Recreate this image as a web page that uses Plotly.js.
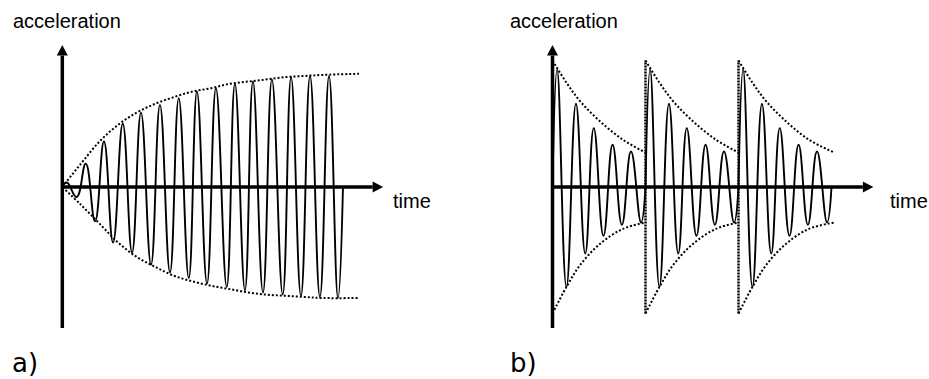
<!DOCTYPE html>
<html>
<head>
<meta charset="utf-8">
<script src="https://cdn.plot.ly/plotly-3.0.1.min.js"></script>
<style>
  html, body { margin: 0; padding: 0; background: #fff; }
  #chart { width: 929px; height: 379px; }
</style>
</head>
<body>
<div id="chart"></div>
<script>
// a) growing oscillation: turning points (time in wave periods, acceleration in arbitrary units)
const aPeakTime = [0.24, 1.26, 2.24, 3.25, 4.23, 5.25, 6.26, 7.24, 8.26, 9.28, 10.25, 11.27, 12.30, 13.32, 14.34];
const aPeakValue = [0.04, 0.21, 0.41, 0.57, 0.67, 0.74, 0.80, 0.86, 0.89, 0.93, 0.95, 0.97, 0.99, 1.00, 1.00];
const aTroughTime = [0.77, 1.76, 2.73, 3.75, 4.77, 5.79, 6.80, 7.78, 8.84, 9.82, 10.79, 11.85, 12.83, 13.85, 14.82];
const aTroughValue = [-0.09, -0.31, -0.50, -0.59, -0.70, -0.77, -0.82, -0.87, -0.90, -0.93, -0.95, -0.97, -0.98, -0.99, -1.00];
const aWaveStart = 0;
const aWaveEnd = 15.09;

// a) envelope
const aEnvTime = [0, 1, 2, 3, 4, 5, 6, 7, 8, 9, 10, 11, 12, 13, 14, 15.95];
const aEnvUpper = [0, 0.21, 0.41, 0.56, 0.67, 0.75, 0.81, 0.86, 0.89, 0.93, 0.95, 0.97, 0.99, 1.00, 1.01, 1.02];
const aEnvLower = [0, -0.16, -0.33, -0.50, -0.63, -0.72, -0.80, -0.85, -0.89, -0.92, -0.95, -0.97, -0.98, -0.99, -1.00, -1.00];

// b) decaying bursts, same shape repeated
const burstStart = [0, 5, 10];
const burstLength = 5.0;
const bPeakTime = [0.25, 1.26, 2.22, 3.23, 4.22];
const bPeakValue = [1.06, 0.75, 0.53, 0.38, 0.32];
const bTroughTime = [0.75, 1.76, 2.74, 3.73, 4.76];
const bTroughValue = [-0.90, -0.60, -0.44, -0.34, -0.32];

// b) envelope per burst
const bEnvTime = [0, 0.75, 1.5, 2.5, 3.75, 5.0];
const bEnvUpper = [1.14, 0.94, 0.77, 0.60, 0.43, 0.31];
const bEnvLower = [-1.14, -0.90, -0.70, -0.52, -0.38, -0.32];
const bLastEnvEnd = 5.16;

// axis extents
const axisTimeEnd = 17.25;
const axisAccTop = 1.28;
const axisAccBottom = -1.27;

const W = 929, H = 379;
const pxPerTime = 18.6, pxPerAcc = 111, axisRowPx = 187;
const headLen = 10.5, headHalf = 5.5;

const paperX = px => px / W;
const paperY = px => 1 - px / H;

function turningPoints(start, peakT, peakV, troughT, troughV, t0, t1) {
  const x = [start + t0], y = [0];
  peakT.forEach((t, i) => {
    x.push(start + t, start + troughT[i]);
    y.push(peakV[i], troughV[i]);
  });
  x.push(start + t1);
  y.push(0);
  return { x, y };
}

const waveLine = { color: '#000', width: 1.9, shape: 'spline', smoothing: 1.3 };
const dotLine = { color: '#000', width: 2, dash: '2px,2px', shape: 'spline', smoothing: 1 };
const base = { type: 'scatter', mode: 'lines', hoverinfo: 'skip', showlegend: false };

const traces = [];

// panel a
const aWave = turningPoints(0, aPeakTime, aPeakValue, aTroughTime, aTroughValue, aWaveStart, aWaveEnd);
traces.push({ ...base, x: aWave.x, y: aWave.y, line: waveLine, xaxis: 'x', yaxis: 'y' });
traces.push({ ...base, x: aEnvTime, y: aEnvUpper, line: dotLine, xaxis: 'x', yaxis: 'y' });
traces.push({ ...base, x: aEnvTime, y: aEnvLower, line: dotLine, xaxis: 'x', yaxis: 'y' });

// panel b
burstStart.forEach((s, k) => {
  const w = turningPoints(s, bPeakTime, bPeakValue, bTroughTime, bTroughValue, 0, burstLength);
  traces.push({ ...base, x: w.x, y: w.y, line: waveLine, xaxis: 'x2', yaxis: 'y2' });
  const envT = bEnvTime.map((t, i) =>
    s + (k === burstStart.length - 1 && i === bEnvTime.length - 1 ? bLastEnvEnd : t));
  traces.push({ ...base, x: envT, y: bEnvUpper, line: dotLine, xaxis: 'x2', yaxis: 'y2' });
  traces.push({ ...base, x: envT, y: bEnvLower, line: dotLine, xaxis: 'x2', yaxis: 'y2' });
  if (k > 0) {
    traces.push({
      ...base, x: [s, s], y: [bEnvLower[0], bEnvUpper[0]],
      line: { color: '#000', width: 2.5, dash: '2px,1px' }, xaxis: 'x2', yaxis: 'y2'
    });
  }
});

function axisShapes(xr, yr) {
  const ln = { color: '#000', width: 3.5 };
  return [
    { type: 'line', xref: xr, yref: yr, x0: 0, y0: 0, x1: axisTimeEnd - headLen / pxPerTime, y1: 0, line: ln },
    { type: 'line', xref: xr, yref: yr, x0: 0, y0: axisAccBottom, x1: 0, y1: axisAccTop - headLen / pxPerAcc, line: ln },
    { type: 'path', xref: xr, yref: yr, xsizemode: 'pixel', ysizemode: 'pixel',
      xanchor: axisTimeEnd, yanchor: 0,
      path: `M0,0 L${-headLen},${headHalf} L${-headLen},${-headHalf} Z`,
      fillcolor: '#000', line: { width: 0 } },
    { type: 'path', xref: xr, yref: yr, xsizemode: 'pixel', ysizemode: 'pixel',
      xanchor: 0, yanchor: axisAccTop,
      path: `M0,0 L${-headHalf},${-headLen} L${headHalf},${-headLen} Z`,
      fillcolor: '#000', line: { width: 0 } }
  ];
}

const sans = 'Liberation Sans, Arial, sans-serif';
const verd = 'DejaVu Sans, Verdana, sans-serif';
function label(text, xpx, ypx, font, size) {
  return {
    text, xref: 'paper', yref: 'paper', x: paperX(xpx), y: paperY(ypx),
    xanchor: 'left', yanchor: 'middle', showarrow: false,
    font: { family: font, size, color: '#000' }
  };
}

const hiddenAxis = { visible: false, fixedrange: true };
const aOrigin = 62.3, bOrigin = 552.5;

const layout = {
  width: W, height: H,
  margin: { l: 0, r: 0, t: 0, b: 0 },
  paper_bgcolor: '#fff', plot_bgcolor: '#fff',
  showlegend: false,
  xaxis: { ...hiddenAxis, domain: [paperX(20), paperX(440)],
    range: [(20 - aOrigin) / pxPerTime, (440 - aOrigin) / pxPerTime] },
  xaxis2: { ...hiddenAxis, domain: [paperX(500), paperX(905)],
    range: [(500 - bOrigin) / pxPerTime, (905 - bOrigin) / pxPerTime] },
  yaxis: { ...hiddenAxis, domain: [paperY(350), paperY(30)],
    range: [(axisRowPx - 350) / pxPerAcc, (axisRowPx - 30) / pxPerAcc] },
  yaxis2: { ...hiddenAxis, domain: [paperY(350), paperY(30)],
    range: [(axisRowPx - 350) / pxPerAcc, (axisRowPx - 30) / pxPerAcc] },
  shapes: [...axisShapes('x', 'y'), ...axisShapes('x2', 'y2')],
  annotations: [
    label('acceleration', 11, 20.5, sans, 20),
    label('time', 391, 200.5, sans, 20),
    label('a)', 10, 363, verd, 26),
    label('acceleration', 508, 20.5, sans, 20),
    label('time', 888, 200.5, sans, 20),
    label('b)', 508, 363, verd, 26)
  ]
};

Plotly.newPlot('chart', traces, layout, { staticPlot: true, displayModeBar: false })
  .catch(err => console.error('Error plotting:', err));
</script>
</body>
</html>
